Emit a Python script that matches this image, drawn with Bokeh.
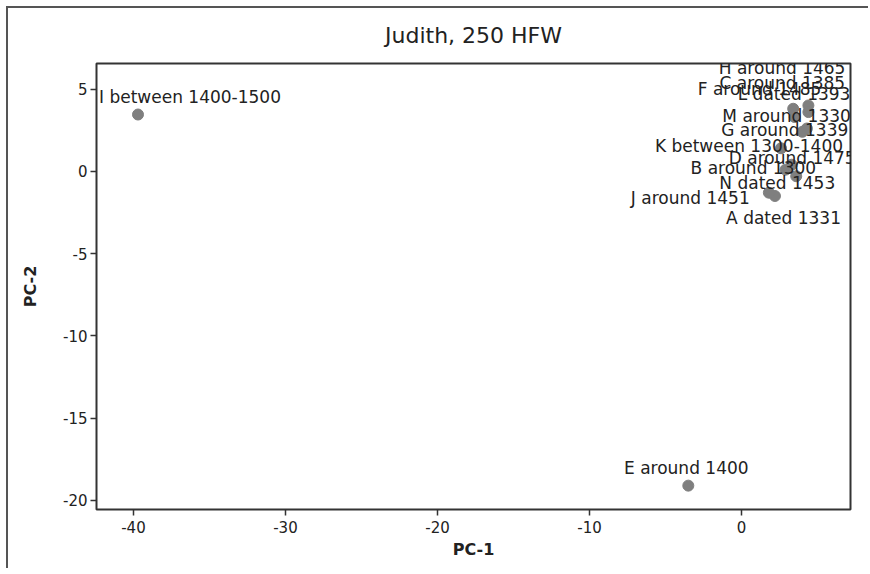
from bokeh.plotting import figure
from bokeh.models import ColumnDataSource, FixedTicker, Range1d
from bokeh.embed import file_html
from bokeh.resources import INLINE
from bokeh.core.properties import value

# ---- data ----
title_text = "Judith, 250 HFW"
names = ["A dated 1331", "B around 1300", "C around 1385", "D around 1475",
         "E around 1400", "F around 1485", "G around 1339", "H around 1465",
         "I between 1400-1500", "J around 1451", "K between 1300-1400",
         "L dated 1393", "M around 1330", "N dated 1453"]
pc1 = [2.2, 2.9, 3.4, 3.3, -3.5, 3.5, 4.0, 4.4, -39.7, 1.8, 2.6, 4.4, 4.3, 3.6]
pc2 = [-1.5, 0.1, 3.8, 0.4, -19.1, 3.3, 2.4, 4.0, 3.45, -1.3, 1.4, 3.6, 2.6, -0.3]
x_ticks = [-40, -30, -20, -10, 0]
y_ticks = [-20, -15, -10, -5, 0, 5]

# ---- label placement (screen-pixel offsets, alignment) ----
lab_align = ["right", "left", "right", "right", "center", "left", "right", "right",
             "left", "left", "right", "right", "right", "right"]
lab_dx = [66, -95, 52, 64, -2, -97, 46, 37, -39, -138, 62, 42, 44, 39]
lab_dy = [22, -2, -26, -7, -18, -28, -2, -37, -18, 5, -2, -18, -13, 7]

FONT = "DejaVu Sans"

p = figure(width=862, height=562, output_backend="svg", toolbar_location=None,
           x_range=Range1d(-42.43, 7.17), y_range=Range1d(-20.55, 6.55),
           min_border_left=88, min_border_right=20, min_border_top=54,
           min_border_bottom=61)
p.styles = {"margin-left": "6px", "margin-top": "6px",
            "border-left": "2px solid #555", "border-top": "2px solid #555"}

p.title.text = title_text
p.title.align = "center"
p.title.vertical_align = "top"
p.title.text_font = FONT
p.title.text_font_size = "22px"
p.title.text_font_style = "normal"
p.title.text_color = "#222222"
p.title.offset = 0
p.title.standoff = 28

p.grid.visible = False
p.outline_line_color = "#333333"
p.outline_line_width = 2

for ax in (p.xaxis[0], p.yaxis[0]):
    ax.axis_line_color = None
    ax.major_tick_line_color = "#333333"
    ax.major_tick_line_width = 1.5
    ax.major_tick_out = 6
    ax.major_tick_in = 0
    ax.minor_tick_line_color = None
    ax.major_label_text_font = FONT
    ax.major_label_text_font_size = "15px"
    ax.major_label_text_color = "#222222"
    ax.axis_label_text_font = FONT
    ax.axis_label_text_font_size = "16px"
    ax.axis_label_text_font_style = "bold"
    ax.axis_label_text_color = "#222222"

p.xaxis.ticker = FixedTicker(ticks=x_ticks)
p.yaxis.ticker = FixedTicker(ticks=y_ticks)
p.xaxis.major_label_overrides = {t: str(t) for t in x_ticks}
p.yaxis.major_label_overrides = {t: str(t) for t in y_ticks}
p.xaxis.axis_label = "PC-1"
p.yaxis.axis_label = "PC-2"
p.xaxis.major_label_standoff = 5
p.yaxis.major_label_standoff = 3
p.xaxis.axis_label_standoff = 4
p.yaxis.axis_label_standoff = 20
p.yaxis.major_label_orientation = "horizontal"

src = ColumnDataSource(dict(x=pc1, y=pc2, name=names))
p.scatter("x", "y", source=src, size=11, fill_color="#7f7f7f",
          line_color="#7f7f7f")

for al in ("left", "center", "right"):
    idx = [i for i, a in enumerate(lab_align) if a == al]
    s = ColumnDataSource(dict(x=[pc1[i] for i in idx], y=[pc2[i] for i in idx],
                              name=[names[i] for i in idx],
                              dx=[lab_dx[i] for i in idx],
                              dy=[lab_dy[i] for i in idx]))
    p.text("x", "y", text="name", source=s, x_offset="dx", y_offset="dy",
           text_align=al, text_baseline="middle", text_font=value(FONT),
           text_font_size="17px", text_color="#222222")

open("out.html", "w").write(file_html(p, INLINE))
